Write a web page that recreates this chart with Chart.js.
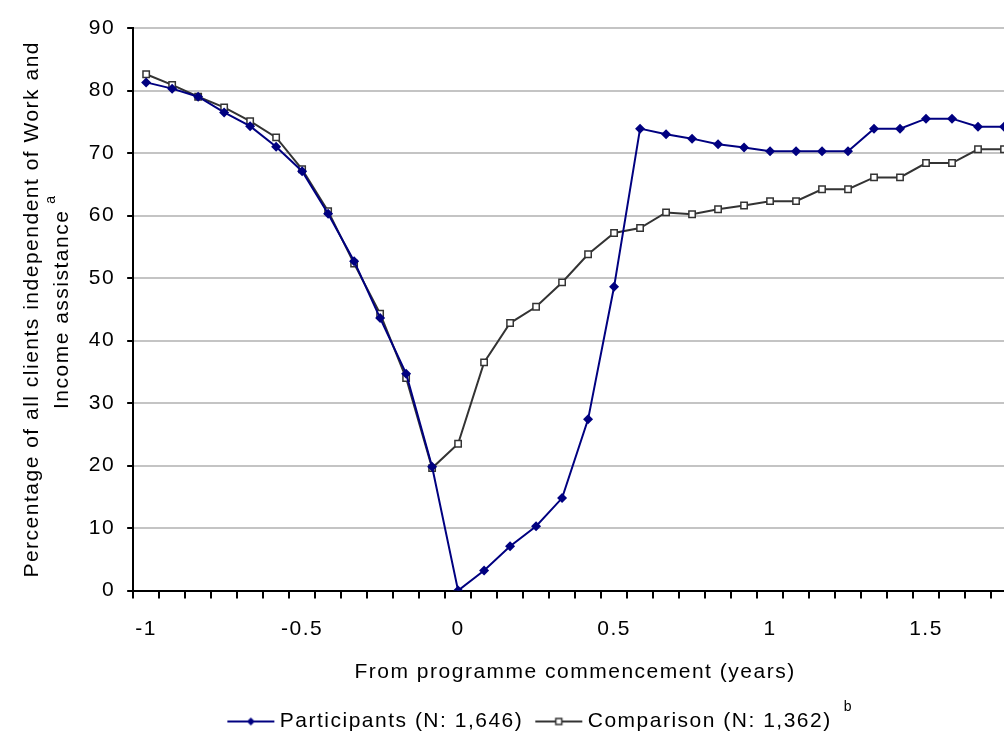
<!DOCTYPE html>
<html>
<head>
<meta charset="utf-8">
<script src="https://cdn.jsdelivr.net/npm/chart.js@4.4.0/dist/chart.umd.min.js"></script>
<style>
  html, body { margin: 0; padding: 0; overflow: hidden; background: #fff; }
  #wrap { width: 1060px; height: 734px; }
</style>
</head>
<body>
<div id="wrap"><canvas id="chart" width="1060" height="734"></canvas></div>
<script>
// months from programme commencement (one point per month)
const months = [-12, -11, -10, -9, -8, -7, -6, -5, -4, -3, -2, -1, 0, 1, 2, 3, 4, 5, 6, 7, 8, 9, 10, 11, 12, 13, 14, 15, 16, 17, 18, 19, 20, 21];

// labels shown on the x axis (years), keyed by month
const yearTicks = { '-12': '-1', '-6': '-0.5', '0': '0', '6': '0.5', '12': '1', '18': '1.5' };

const participants = [81.3, 80.3, 79.0, 76.5, 74.3, 71.0, 67.1, 60.3, 52.7, 43.6, 34.7, 19.8, 0.0, 3.2, 7.1, 10.3, 14.8, 27.4, 48.6, 73.9, 73.0, 72.3, 71.4, 70.9, 70.3, 70.3, 70.3, 70.3, 73.9, 73.9, 75.5, 75.5, 74.2, 74.2];
const comparison = [82.6, 80.9, 79.0, 77.3, 75.1, 72.5, 67.4, 60.7, 52.3, 44.3, 34.0, 19.6, 23.5, 36.5, 42.8, 45.4, 49.3, 53.8, 57.2, 58.0, 60.5, 60.2, 61.0, 61.6, 62.3, 62.3, 64.2, 64.2, 66.1, 66.1, 68.4, 68.4, 70.6, 70.6];

const seriesNames = ['Participants (N: 1,646)', 'Comparison (N: 1,362)'];
const yTitle = ['Percentage of all clients independent of Work and', 'Income assistance'];
const xTitle = 'From programme commencement (years)';

const FONT = 'Liberation Sans, Arial, sans-serif';
const SPACING = '1.5px';

// little line + marker picture for the legend
function legendIcon(color, marker) {
  const c = document.createElement('canvas');
  c.width = 56; c.height = 12;
  const g = c.getContext('2d');
  g.strokeStyle = color;
  g.lineWidth = 2;
  g.beginPath(); g.moveTo(7, 6); g.lineTo(54, 6); g.stroke();
  if (marker === 'diamond') {
    g.fillStyle = color;
    g.beginPath(); g.moveTo(30.5, 2); g.lineTo(34.5, 6); g.lineTo(30.5, 10); g.lineTo(26.5, 6); g.closePath(); g.fill();
  } else {
    g.fillStyle = '#fff';
    g.fillRect(27.5, 3, 6, 6);
    g.lineWidth = 1.5;
    g.strokeRect(27.5, 3, 6, 6);
  }
  return c;
}

const spacingPlugin = {
  id: 'spacing',
  beforeUpdate(chart) { chart.ctx.letterSpacing = SPACING; },
  beforeDraw(chart) { chart.ctx.letterSpacing = SPACING; },
  // legend sits a bit right of centre in the original
  afterLayout(chart) {
    chart.legend.left += 21;
    chart.legend.right += 21;
  }
};

// superscript notes "a" (y title) and "b" (legend)
const notesPlugin = {
  id: 'notes',
  afterDraw(chart) {
    const ctx = chart.ctx;
    ctx.save();
    ctx.fillStyle = '#000';
    ctx.font = '14px ' + FONT;
    ctx.textAlign = 'center';
    ctx.textBaseline = 'middle';
    ctx.translate(chart.scales.y.left + 51, chart.chartArea.top + 171);
    ctx.rotate(-Math.PI / 2);
    ctx.fillText('a', 0, 0);
    ctx.restore();

    const box = chart.legend.legendHitBoxes[1];
    if (box) {
      ctx.save();
      ctx.fillStyle = '#000';
      ctx.font = '14px ' + FONT;
      ctx.textAlign = 'left';
      ctx.textBaseline = 'middle';
      ctx.fillText('b', box.left + box.width + 12, box.top - 4);
      ctx.restore();
    }
  }
};

new Chart(document.getElementById('chart'), {
  type: 'line',
  data: {
    labels: months,
    datasets: [{
      label: seriesNames[0],
      data: participants,
      borderColor: '#000080',
      backgroundColor: '#000080',
      borderWidth: 2,
      pointStyle: 'rectRot',
      pointRadius: 5,
      pointBorderWidth: 0,
      tension: 0
    }, {
      label: seriesNames[1],
      data: comparison,
      borderColor: '#333333',
      backgroundColor: '#ffffff',
      borderWidth: 2,
      pointStyle: 'rect',
      pointRadius: 4.5,
      pointBorderWidth: 1.5,
      pointBorderColor: '#333333',
      tension: 0
    }]
  },
  options: {
    responsive: false,
    animation: false,
    layout: { padding: { top: 28, right: 43, left: 0, bottom: -8 } },
    scales: {
      x: {
        type: 'category',
        offset: true,
        grid: { offset: true, drawOnChartArea: false, tickColor: '#000', tickLength: 8, lineWidth: 2 },
        border: { color: '#000', width: 2 },
        ticks: {
          autoSkip: false,
          maxRotation: 0,
          padding: 18,
          color: '#000',
          font: { family: FONT, size: 21 },
          callback: (value, i) => yearTicks[months[i]] ?? ''
        },
        title: {
          display: true,
          text: xTitle,
          color: '#000',
          font: { family: FONT, size: 21 },
          padding: { top: 0, bottom: 14 }
        }
      },
      y: {
        min: 0,
        max: 90,
        ticks: {
          stepSize: 10,
          padding: 12,
          color: '#000',
          font: { family: FONT, size: 21 }
        },
        grid: { color: '#c4c4c4', lineWidth: 2, tickColor: '#000', tickLength: 6 },
        border: { color: '#000', width: 2 },
        title: {
          display: true,
          text: yTitle,
          color: '#000',
          font: { family: FONT, size: 21, lineHeight: 1.4 },
          padding: { top: 18, bottom: 0 }
        }
      }
    },
    plugins: {
      tooltip: { enabled: false },
      legend: {
        position: 'bottom',
        labels: {
          color: '#000',
          font: { family: FONT, size: 21 },
          usePointStyle: true,
          pointStyleWidth: 42,
          padding: 12,
          generateLabels: chart => chart.data.datasets.map((ds, i) => ({
            text: ds.label,
            pointStyle: legendIcon(ds.borderColor, i === 0 ? 'diamond' : 'square'),
            fillStyle: ds.borderColor,
            strokeStyle: ds.borderColor,
            lineWidth: 0,
            hidden: false,
            datasetIndex: i
          }))
        }
      }
    }
  },
  plugins: [spacingPlugin, notesPlugin]
});
</script>
</body>
</html>
